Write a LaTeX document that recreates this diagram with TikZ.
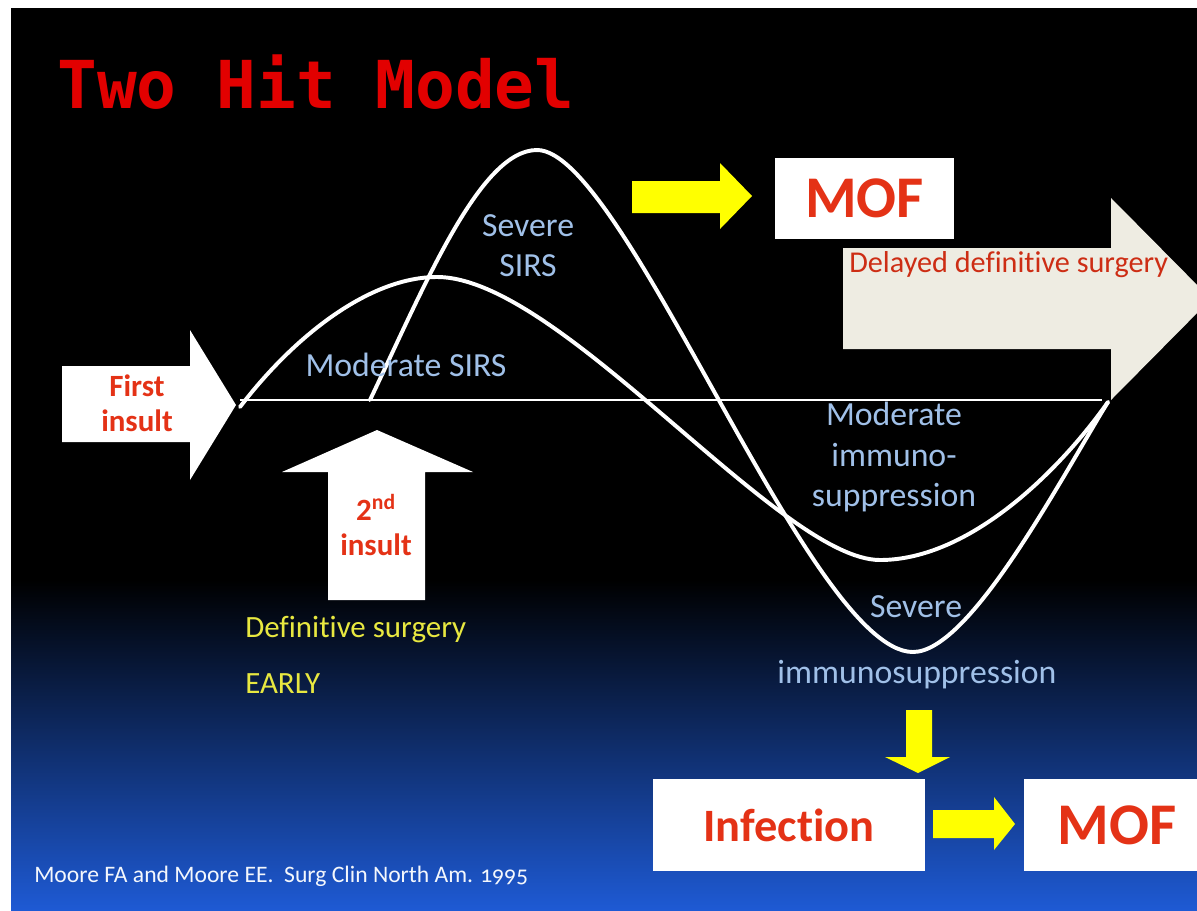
\documentclass[tikz,border=0pt]{standalone}
\usepackage{fontspec}
\setmainfont{Carlito}[Ligatures=NoCommon]
\newfontfamily\titlefont{DejaVu Sans Mono}
\newfontfamily\citefont[Numbers=OldStyle,Ligatures=NoCommon]{Carlito}
\usepackage{tikz}
\usetikzlibrary{positioning}
\definecolor{titlered}{RGB}{226,0,0}
\definecolor{boxred}{RGB}{228,50,22}
\definecolor{labelblue}{RGB}{160,192,232}
\definecolor{hityellow}{RGB}{255,255,0}
\definecolor{textyellow}{RGB}{232,232,64}
\definecolor{beige}{RGB}{238,236,226}
\definecolor{slideblue}{RGB}{30,90,212}
\tikzset{
  curve/.style={white,line width=2.8pt,line cap=round,line join=round},
  bluelabel/.style={text=labelblue,inner sep=0pt,align=center,font=\fontsize{24}{28.5}\selectfont},
  insult/.style={text=boxred,inner sep=0pt,align=center,font=\bfseries\fontsize{22}{25}\selectfont},
  whitebox/.style={fill=white,text=boxred,inner sep=0pt,font=\bfseries\fontsize{42}{44}\selectfont},
  yellowtext/.style={text=textyellow,inner sep=0pt,anchor=west,font=\fontsize{22}{26}\selectfont}
}
\begin{document}
\begin{tikzpicture}[x=0.025cm,y=-0.025cm]
\useasboundingbox (0,0) rectangle (1197,910);
\fill[white] (0,0) rectangle (1197,910);
\fill[black] (11,8) rectangle (1197,581);
\shade[top color=black,bottom color=slideblue] (11,580) rectangle (1197,910);
\node[text=titlered,inner sep=0pt,anchor=base west,font=\titlefont\bfseries\fontsize{47}{50}\selectfont] (title) at (57,108) {Two Hit Model};
\fill[beige] (843,248) -- (1111,248) -- (1111,198) -- (1211,299) -- (1111,400) -- (1111,349) -- (843,349) -- cycle;
\fill[white] (62,366) -- (190,366) -- (190,330) -- (236,405) -- (190,480) -- (190,442) -- (62,442) -- cycle;
\fill[white] (328,600) -- (328,472) -- (282,472) -- (377,430) -- (473,472) -- (425,472) -- (425,600) -- cycle;
\fill[hityellow] (632,181) -- (720,181) -- (720,163) -- (752,196) -- (720,229) -- (720,213) -- (632,213) -- cycle;
\fill[hityellow] (906,710) -- (932,710) -- (932,757) -- (950,757) -- (918,773) -- (885,757) -- (906,757) -- cycle;
\fill[hityellow] (933,810) -- (994,810) -- (994,797) -- (1015,824) -- (994,850) -- (994,838) -- (933,838) -- cycle;
\draw[white,line width=0.9pt] (240,400) -- (1102,400);
\draw[curve] (240,407) .. controls (295,335) and (370,277) .. (437,277) .. controls (560,277) and (780,560) .. (880,560) .. controls (970,560) and (1060,470) .. (1108,402);
\draw[curve] (370,400) .. controls (425,285) and (480,150) .. (537,150) .. controls (625,150) and (810,652) .. (913,652) .. controls (970,652) and (1060,480) .. (1108,402);
\node[whitebox,minimum width=4.46cm,minimum height=2.02cm] (mofTop) at (864.5,198.5) {MOF};
\node[text=boxred!90!black,inner sep=0pt,anchor=west,font=\fontsize{21.5}{24}\selectfont] (delayed) at (849,265) {Delayed definitive surgery};
\node[insult] (firstInsult) at (137,403) {First\\insult};
\node[insult] (secondInsult) at (376,525) {2\textsuperscript{nd}\\insult};
\node[yellowtext] (defSurgery) at (245,630) {Definitive surgery};
\node[yellowtext] (early) at (245,684) {EARLY};
\node[bluelabel] (modSirs) at (406,365) {Moderate SIRS};
\node[bluelabel] (sevSirs) at (528,246) {Severe\\SIRS};
\node[bluelabel] (modImmuno) at (894,457) {Moderate\\immuno-\\suppression};
\node[bluelabel] (sevLabel) at (916,607) {Severe};
\node[bluelabel] (sevImmuno) at (917,675) {immunosuppression};
\node[whitebox,minimum width=6.8cm,minimum height=2.3cm,font=\bfseries\fontsize{33}{36}\selectfont] (infection) at (789,825) {Infection};
\node[whitebox,minimum width=4.65cm,minimum height=2.3cm,anchor=west] (mofBottom) at (1024,825) {MOF};
\node[text=white!88!labelblue,inner sep=0pt,anchor=west,font=\citefont\fontsize{16.8}{19}\selectfont] (cite) at (34,876) {Moore FA and Moore EE.\ \ Surg Clin North Am. 1995};
\end{tikzpicture}
\end{document}
